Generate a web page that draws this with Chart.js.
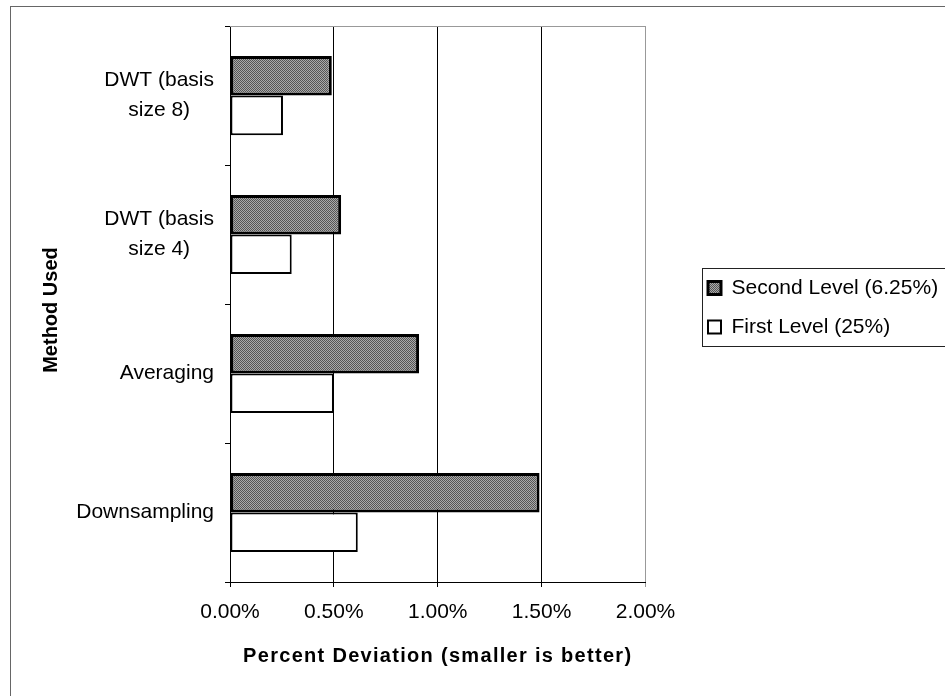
<!DOCTYPE html>
<html><head><meta charset="utf-8">
<script src="https://cdn.jsdelivr.net/npm/chart.js@4.4.1/dist/chart.umd.min.js"></script>
<style>html,body{margin:0;padding:0;background:#fff;}canvas{display:block;}</style>
</head><body>
<canvas id="c" width="945" height="696"></canvas>
<script>
const categories = [['DWT (basis', 'size 8)'], ['DWT (basis', 'size 4)'], 'Averaging', 'Downsampling'];
const seriesNames = ['Second Level (6.25%)', 'First Level (25%)'];
const secondLevel = [0.49, 0.535, 0.91, 1.49];
const firstLevel = [0.255, 0.297, 0.50, 0.615];
const xTickLabels = ['0.00%', '0.50%', '1.00%', '1.50%', '2.00%'];
const xTitle = 'Percent Deviation (smaller is better)';
const yTitle = 'Method Used';

Chart.defaults.font.family = '"Liberation Sans", Arial, sans-serif';
Chart.defaults.font.size = 21;
Chart.defaults.color = '#000';

function makePattern() {
  const p = document.createElement('canvas');
  p.width = 2; p.height = 2;
  const g = p.getContext('2d');
  g.fillStyle = '#aaaaaa'; g.fillRect(0, 0, 2, 2);
  g.fillStyle = '#555555'; g.fillRect(0, 0, 1, 1); g.fillRect(1, 1, 1, 1);
  return g.createPattern(p, 'repeat');
}
const darkFill = makePattern();

const decor = {
  id: 'decor',
  beforeLayout(chart) {
    const lg = chart.legend;
    if (lg && !lg._fixedFit) {
      const f = lg.fit;
      lg.fit = function () { f.call(this); if (this.options.display) this.width = 299.5; };
      lg._fixedFit = true;
    }
  },
  afterLayout(chart) {
    const lg = chart.legend;
    if (!lg) return;
    lg.left += 44.5; lg.right += 44.5;
    const h = lg.bottom - lg.top;
    lg.top = 259.5; lg.bottom = lg.top + h;
  },
  beforeDraw(chart) {
    const ctx = chart.ctx;
    ctx.save();
    ctx.fillStyle = '#fff';
    ctx.fillRect(0, 0, chart.width, chart.height);
    ctx.strokeStyle = '#666';
    ctx.lineWidth = 1;
    ctx.strokeRect(10.5, 6.5, chart.width + 20, chart.height + 20);
    ctx.restore();
    const xs = chart.scales.x;
    if (xs && !xs._spaced) {
      const d = xs.drawTitle;
      xs.drawTitle = function (...a) {
        this.ctx.save();
        this.ctx.letterSpacing = '1.3px';
        d.apply(this, a);
        this.ctx.restore();
      };
      xs._spaced = true;
    }
    const ys = chart.scales.y;
    if (ys && !ys._patched) {
      const dt = ys.drawTitle;
      ys.drawTitle = function (...a) {
        this.ctx.save();
        this.ctx.translate(0, 6);
        dt.apply(this, a);
        this.ctx.restore();
      };
      const cl = ys._computeLabelItems;
      ys._computeLabelItems = function (...a) {
        const items = cl.apply(this, a);
        const c = this.ctx;
        items.forEach(it => {
          if (Array.isArray(it.label) && it.label.length > 1) {
            c.save();
            c.font = it.font.string;
            const w = Math.max(...it.label.map(s => c.measureText(s).width));
            c.restore();
            it.options.textAlign = 'center';
            it.options.translation = [it.options.translation[0] - w / 2, it.options.translation[1]];
          }
        });
        return items;
      };
      ys._labelItems = null;
      ys._patched = true;
    }
  },
  afterDraw(chart) {
    const ctx = chart.ctx, a = chart.chartArea, lg = chart.legend;
    ctx.save();
    ctx.strokeStyle = '#999';
    ctx.lineWidth = 1;
    ctx.beginPath();
    ctx.moveTo(a.left, a.top + 0.5);
    ctx.lineTo(a.right, a.top + 0.5);
    ctx.stroke();
    ctx.strokeStyle = '#222';
    ctx.strokeRect(lg.left + 12.5, lg.top + 9, 270, 78);
    ctx.restore();
  }
};

new Chart(document.getElementById('c'), {
  type: 'bar',
  data: {
    labels: categories,
    datasets: [
      { label: seriesNames[0], data: secondLevel, backgroundColor: darkFill, borderColor: '#000',
        borderWidth: 3, borderSkipped: false, categoryPercentage: 0.57, barPercentage: 1 },
      { label: seriesNames[1], data: firstLevel, backgroundColor: '#fff', borderColor: '#000',
        borderWidth: 2, borderSkipped: false, categoryPercentage: 0.57, barPercentage: 1 }
    ]
  },
  options: {
    indexAxis: 'y',
    responsive: false,
    animation: false,
    layout: { padding: { top: 26, left: 0, right: 0, bottom: 0 } },
    plugins: {
      tooltip: { enabled: false },
      legend: {
        position: 'right',
        align: 'start',
        labels: { font: { size: 21 }, color: '#000', boxWidth: 13, boxHeight: 13, padding: 18 }
      }
    },
    scales: {
      x: {
        type: 'linear',
        min: 0, max: 2,
        ticks: { stepSize: 0.5, padding: 13, font: { size: 21 }, color: '#000',
          callback: (v, i) => xTickLabels[i] },
        grid: { color: c => (c.tick && c.tick.value === 2) ? '#999' : '#000', lineWidth: 1,
          drawTicks: true, tickLength: 5 },
        border: { color: '#000', width: 1 },
        title: { display: true, text: xTitle, font: { size: 20, weight: 'bold' }, color: '#000',
          padding: { top: 0, bottom: 28 } },
        afterFit(s) { s.height = 114; }
      },
      y: {
        type: 'category',
        ticks: { padding: 11, font: { size: 21, lineHeight: 1.43 }, color: '#000' },
        grid: { drawOnChartArea: false, drawTicks: true, tickLength: 5, color: '#000' },
        border: { color: '#000', width: 1 },
        title: { display: true, text: yTitle, font: { size: 20, weight: 'bold' }, color: '#000',
          padding: { top: 39.5, bottom: 0 } },
        afterFit(s) { s.width = 230; }
      }
    }
  },
  plugins: [decor]
});
</script>
</body></html>
